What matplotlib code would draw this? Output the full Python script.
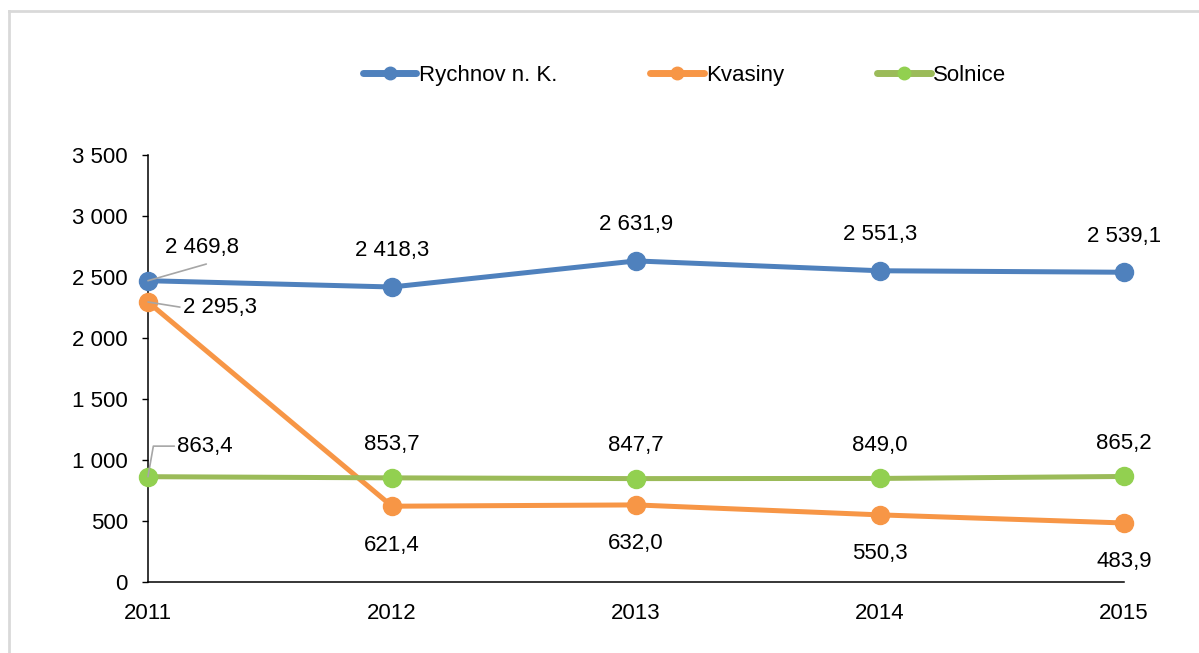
import matplotlib.pyplot as plt
from matplotlib.lines import Line2D

plt.rcParams['font.family'] = ['Liberation Sans', 'DejaVu Sans']

years = [2011, 2012, 2013, 2014, 2015]
rychnov = [2469.8, 2418.3, 2631.9, 2551.3, 2539.1]
kvasiny = [2295.3, 621.4, 632.0, 550.3, 483.9]
solnice = [863.4, 853.7, 847.7, 849.0, 865.2]
names = ['Rychnov n. K.', 'Kvasiny', 'Solnice']
y_ticks = [0, 500, 1000, 1500, 2000, 2500, 3000, 3500]


def cz(v, dec=1):
    # czech number format: space for thousands, comma for decimals
    s = f'{v:,.{dec}f}'
    return s.replace(',', ' ').replace('.', ',')


fig = plt.figure(figsize=(11.99, 6.53), dpi=100)
ax = fig.add_axes([0.1234, 0.1087, 0.8141, 0.6539])

series = [
    (rychnov, '#4F81BD', '#4F81BD'),
    (kvasiny, '#F79646', '#F79646'),
    (solnice, '#9BBB59', '#92D050'),
]
for (vals, lc, mc), name in zip(series, names):
    ax.plot(years, vals, color=lc, lw=3.6, marker='o', ms=13,
            markerfacecolor=mc, markeredgecolor=mc, label=name, zorder=3,
            solid_capstyle='round', clip_on=False)

fs = 16
lead = dict(arrowstyle='-', color='#A6A6A6', lw=1.2, shrinkA=0, shrinkB=0)

# labels for the first year sit beside the points with leader lines
ax.annotate('', (years[0], rychnov[0]), xytext=(42, 12),
            textcoords='offset points', arrowprops=lead)
ax.annotate(cz(rychnov[0]), (years[0], rychnov[0]), xytext=(12, 24),
            textcoords='offset points', fontsize=fs, ha='left', va='center')
ax.annotate(cz(kvasiny[0]), (years[0], kvasiny[0]), xytext=(25, -4),
            textcoords='offset points', fontsize=fs, ha='left', va='center',
            arrowprops=dict(lead, relpos=(0, 0.5)))
ax.annotate(cz(solnice[0]), (years[0], solnice[0]), xytext=(21, 22),
            textcoords='offset points', fontsize=fs, ha='left', va='center',
            arrowprops=dict(lead, relpos=(0, 0.5),
                            connectionstyle='angle,angleA=0,angleB=80,rad=0'))

for x, r, k, s in zip(years[1:], rychnov[1:], kvasiny[1:], solnice[1:]):
    ax.annotate(cz(r), (x, r), xytext=(0, 26), textcoords='offset points',
                fontsize=fs, ha='center', va='center')
    ax.annotate(cz(s), (x, s), xytext=(0, 24), textcoords='offset points',
                fontsize=fs, ha='center', va='center')
    ax.annotate(cz(k), (x, k), xytext=(0, -28), textcoords='offset points',
                fontsize=fs, ha='center', va='center')

ax.set_xlim(2011, 2015)
ax.set_ylim(0, 3500)
ax.set_xticks(years)
ax.set_xticklabels([str(y) for y in years])
ax.set_yticks(y_ticks)
ax.set_yticklabels([cz(v, 0) for v in y_ticks])
ax.tick_params(axis='y', length=4.5, width=1, labelsize=fs, pad=10)
ax.tick_params(axis='x', length=0, labelsize=fs, pad=15)
for side in ['top', 'right']:
    ax.spines[side].set_visible(False)
for side in ['left', 'bottom']:
    ax.spines[side].set_linewidth(1.1)

handles = [Line2D([], [], color=lc, lw=5, marker='o', ms=9,
                  markerfacecolor=mc, markeredgecolor=mc, solid_capstyle='round')
           for _, lc, mc in series]
fig.legend(handles, names, loc='center', bbox_to_anchor=(0.571, 0.884),
           ncol=3, frameon=False, fontsize=fs, handlelength=2.4,
           handletextpad=0.1, columnspacing=4.2)

# thin gray frame along the top and left edges
fig.add_artist(Line2D([9 / 1199, 1], [1 - 11 / 653] * 2, color='#D9D9D9', lw=2,
                      transform=fig.transFigure))
fig.add_artist(Line2D([9 / 1199] * 2, [0, 1 - 11 / 653], color='#D9D9D9', lw=2,
                      transform=fig.transFigure))

fig.savefig('out.png', dpi=100)
